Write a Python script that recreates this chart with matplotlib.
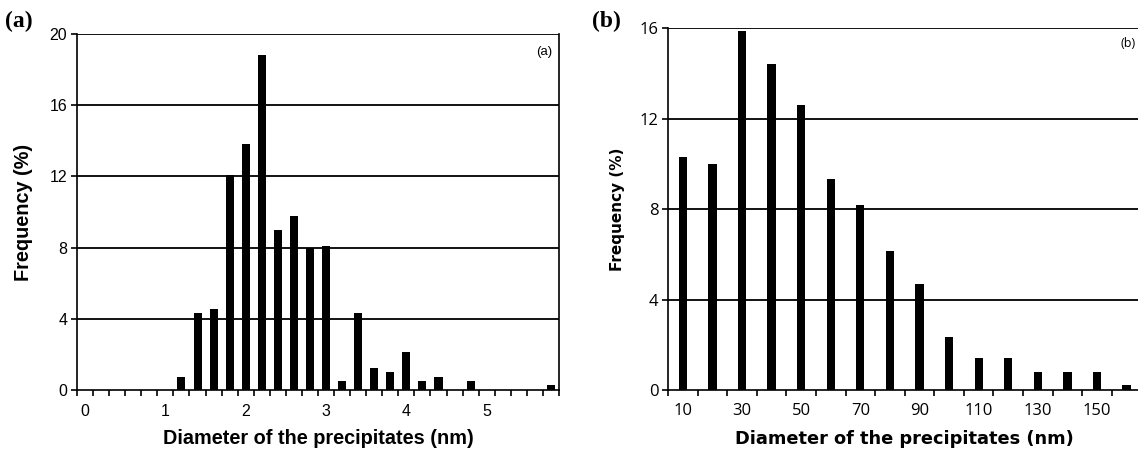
import numpy as np
import matplotlib.pyplot as plt

# size distribution, panel (a): 0.2 nm classes
diam_a = [round(0.2 * i, 1) for i in range(30)]
freq_a = [0, 0, 0, 0, 0, 0, 0.75, 4.3, 4.55, 12.1, 13.8, 18.8, 9.0, 9.8, 7.95,
          8.1, 0.5, 4.3, 1.25, 1.0, 2.15, 0.5, 0.75, 0, 0.5, 0, 0, 0, 0, 0.28]
yticks_a = [0, 4, 8, 12, 16, 20]

# size distribution, panel (b): 10 nm classes
diam_b = [10, 20, 30, 40, 50, 60, 70, 80, 90, 100, 110, 120, 130, 140, 150, 160]
freq_b = [10.3, 10.0, 15.85, 14.4, 12.6, 9.35, 8.2, 6.15, 4.7, 2.35, 1.42, 1.42,
          0.83, 0.83, 0.83, 0.24]
yticks_b = [0, 4, 8, 12, 16]

fig = plt.figure(figsize=(11.38, 4.58), dpi=100)

# ---- (a) ----
ax1 = fig.add_axes([0.0677, 0.1485, 0.4235, 0.7773])
pos_a = np.arange(len(diam_a))
ax1.bar(pos_a, freq_a, width=0.5, color="black", zorder=3)
ax1.set_xlim(-0.5, len(diam_a) - 0.5)
ax1.set_ylim(0, 20)
ax1.set_yticks(yticks_a)
ax1.set_yticklabels([str(v) for v in yticks_a], family="Liberation Sans", fontsize=11.5)
ax1.set_xticks(pos_a[::5])
ax1.set_xticklabels([str(int(d)) for d in diam_a[::5]], family="Liberation Sans", fontsize=11.5)
ax1.set_xticks(np.arange(-0.5, len(diam_a), 1), minor=True)
ax1.tick_params(axis="x", which="major", length=0, pad=10)
ax1.tick_params(axis="x", which="minor", length=4, width=1.2, direction="out")
ax1.tick_params(axis="y", length=4, width=1.2, direction="out", pad=3)
for y in yticks_a[1:]:
    ax1.axhline(y, color="black", lw=1.3, zorder=1)
ax1.spines["top"].set_visible(False)
for s in ["left", "bottom", "right"]:
    ax1.spines[s].set_linewidth(1.2)
ax1.set_xlabel("Diameter of the precipitates (nm)", family="Liberation Sans",
               fontweight="bold", fontsize=14.3, labelpad=7)
ax1.set_ylabel("Frequency (%)", family="Liberation Sans", fontweight="bold",
               fontsize=14.3, labelpad=12)
ax1.text(0.985, 0.965, "(a)", transform=ax1.transAxes, ha="right", va="top",
         family="Liberation Sans", fontsize=9.5)
fig.text(0.004, 0.94, "(a)", family="Liberation Serif", fontweight="bold", fontsize=17)

# ---- (b) ----
ax2 = fig.add_axes([0.587, 0.1474, 0.416, 0.7915])
pos_b = np.arange(len(diam_b))
ax2.bar(pos_b, freq_b, width=0.28, color="black", zorder=3)
ax2.set_xlim(-0.5, len(diam_b) - 0.5)
ax2.set_ylim(0, 16)
ax2.set_yticks(yticks_b)
ax2.set_yticklabels([str(v) for v in yticks_b], family="Open Sans", fontsize=12)
ax2.set_xticks(pos_b[::2])
ax2.set_xticklabels([str(d) for d in diam_b[::2]], family="Open Sans", fontsize=12)
ax2.set_xticks(np.arange(-0.5, len(diam_b), 1), minor=True)
ax2.tick_params(axis="x", which="major", length=0, pad=9)
ax2.tick_params(axis="x", which="minor", length=4, width=1.2, direction="out")
ax2.tick_params(axis="y", length=4, width=1.2, direction="out", pad=3)
for y in yticks_b[1:]:
    ax2.axhline(y, color="black", lw=1.3, zorder=1)
ax2.spines["top"].set_visible(False)
ax2.spines["right"].set_visible(False)
for s in ["left", "bottom"]:
    ax2.spines[s].set_linewidth(1.2)
ax2.set_xlabel("Diameter of the precipitates (nm)", family="DejaVu Sans",
               fontweight="bold", fontsize=12.8, labelpad=8)
ax2.set_ylabel("Frequency (%)", family="DejaVu Sans", fontweight="bold",
               fontsize=11, labelpad=10)
ax2.text(0.988, 0.975, "(b)", transform=ax2.transAxes, ha="right", va="top",
         family="Open Sans", fontsize=9)
fig.text(0.52, 0.94, "(b)", family="Liberation Serif", fontweight="bold", fontsize=17)

fig.savefig("out.png", dpi=100)
